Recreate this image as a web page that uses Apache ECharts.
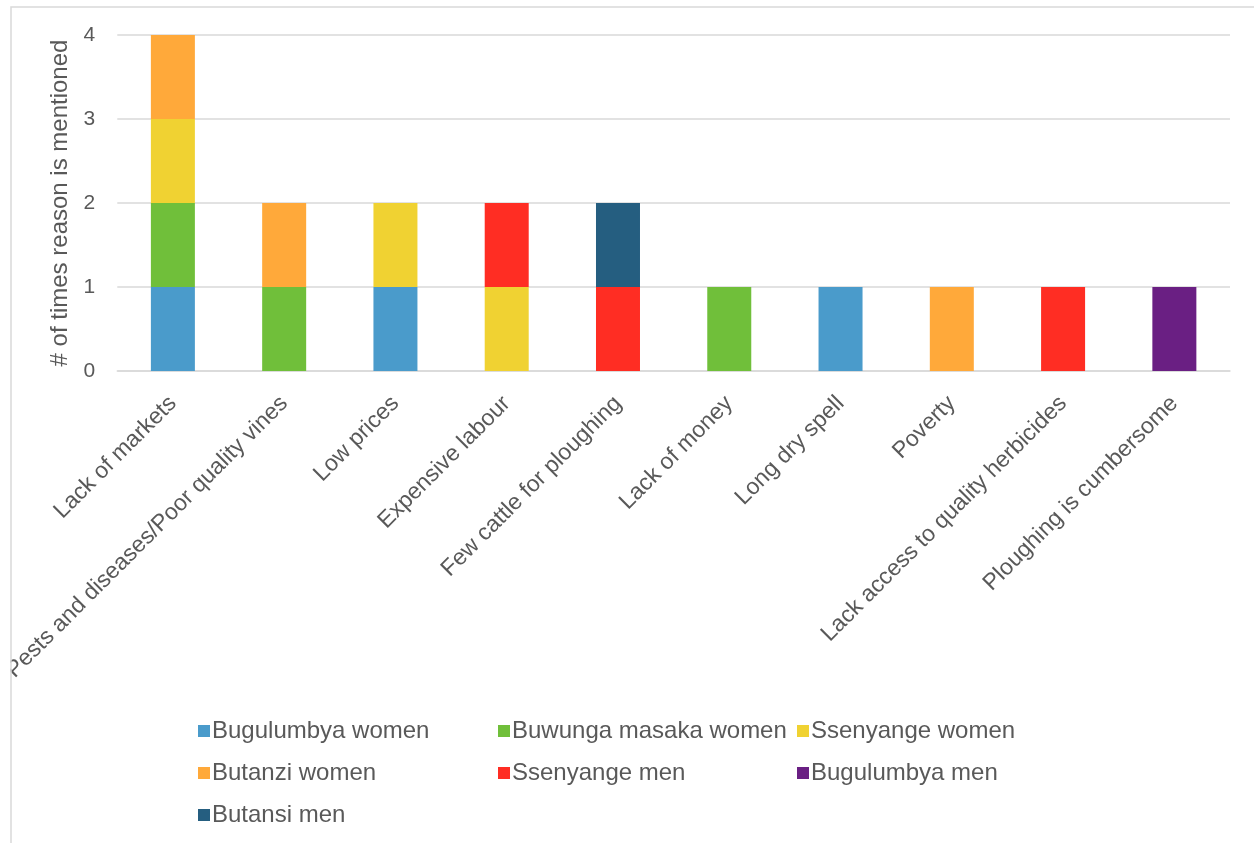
<!DOCTYPE html>
<html>
<head>
<meta charset="utf-8">
<script src="https://cdn.jsdelivr.net/npm/echarts@6/dist/echarts.min.js"></script>
<style>
  html, body { margin: 0; padding: 0; background: #fff; }
  #chart { width: 1254px; height: 843px; }
</style>
</head>
<body>
<div id="chart"></div>
<script>
// Reasons, one category per bar
const categories = [
  'Lack of markets',
  'Pests and diseases/Poor quality vines',
  'Low prices',
  'Expensive labour',
  'Few cattle for ploughing',
  'Lack of money',
  'Long dry spell',
  'Poverty',
  'Lack access to quality herbicides',
  'Ploughing is cumbersome'
];

// Number of mentions per group (stacked bottom to top)
const bugulumbyaWomen   = [1, 0, 1, 0, 0, 0, 1, 0, 0, 0];
const buwungaMasakaWomen = [1, 1, 0, 0, 0, 1, 0, 0, 0, 0];
const ssenyangeWomen    = [1, 0, 1, 1, 0, 0, 0, 0, 0, 0];
const butanziWomen      = [1, 1, 0, 0, 0, 0, 0, 1, 0, 0];
const ssenyangeMen      = [0, 0, 0, 1, 1, 0, 0, 0, 1, 0];
const bugulumbyaMen     = [0, 0, 0, 0, 0, 0, 0, 0, 0, 1];
const butansiMen        = [0, 0, 0, 0, 1, 0, 0, 0, 0, 0];

const yTicks = [0, 1, 2, 3, 4];

const seriesDefs = [
  { name: 'Bugulumbya women', data: bugulumbyaWomen, color: '#4A9BCB' },
  { name: 'Buwunga masaka women', data: buwungaMasakaWomen, color: '#70BF3A' },
  { name: 'Ssenyange women', data: ssenyangeWomen, color: '#F0D232' },
  { name: 'Butanzi women', data: butanziWomen, color: '#FFA93A' },
  { name: 'Ssenyange men', data: ssenyangeMen, color: '#FF2D23' },
  { name: 'Bugulumbya men', data: bugulumbyaMen, color: '#6A1F83' },
  { name: 'Butansi men', data: butansiMen, color: '#255E80' }
];

const FONT = '"Liberation Sans", Arial, sans-serif';
const TEXT = '#595959';
const GRIDC = '#D9D9D9';

function legendColumn(left, names) {
  return {
    orient: 'vertical',
    left: left,
    top: 714,
    itemWidth: 12,
    itemHeight: 12,
    itemGap: 18,
    icon: 'rect',
    data: names,
    textStyle: { fontFamily: FONT, fontSize: 24, color: TEXT, padding: [0, 0, 0, -3] }
  };
}

const chart = echarts.init(document.getElementById('chart'), null, { renderer: 'canvas' });
chart.setOption({
  animation: false,
  backgroundColor: '#fff',
  grid: { left: 117, right: 24, top: 35, bottom: 472, containLabel: false },
  xAxis: {
    type: 'category',
    data: categories,
    axisLine: { show: true, lineStyle: { color: GRIDC, width: 1.5 } },
    axisTick: { show: false },
    axisLabel: {
      rotate: 45,
      interval: 0,
      margin: 29,
      fontFamily: FONT,
      fontSize: 23,
      color: TEXT
    }
  },
  yAxis: {
    type: 'value',
    min: yTicks[0],
    max: yTicks[yTicks.length - 1],
    interval: 1,
    name: '# of times reason is mentioned',
    nameLocation: 'middle',
    nameGap: 38,
    nameTextStyle: { fontFamily: FONT, fontSize: 24, color: TEXT },
    axisLine: { show: false },
    axisTick: { show: false },
    axisLabel: { margin: 22, fontFamily: FONT, fontSize: 21, color: TEXT },
    splitLine: { show: true, lineStyle: { color: GRIDC, width: 1.5 } }
  },
  legend: [
    legendColumn(193, ['Bugulumbya women', 'Butanzi women', 'Butansi men']),
    legendColumn(493, ['Buwunga masaka women', 'Ssenyange men']),
    legendColumn(792, ['Ssenyange women', 'Bugulumbya men'])
  ],
  series: seriesDefs.map(s => ({
    name: s.name,
    type: 'bar',
    stack: 'total',
    data: s.data,
    barWidth: 44,
    itemStyle: { color: s.color },
    emphasis: { disabled: true }
  })),
  graphic: [
    {
      type: 'rect',
      z: 100,
      silent: true,
      shape: { x: 0, y: 0, width: 10.5, height: 843 },
      style: { fill: '#fff' }
    },
    {
      type: 'rect',
      z: 101,
      silent: true,
      shape: { x: 11, y: 7, width: 1400, height: 1000 },
      style: { fill: 'none', stroke: GRIDC, lineWidth: 1.5 }
    }
  ]
});
</script>
</body>
</html>
